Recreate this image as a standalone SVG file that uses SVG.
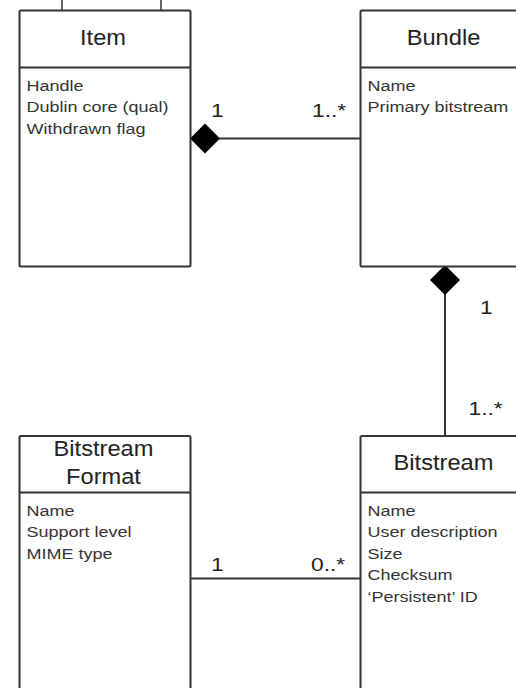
<svg xmlns="http://www.w3.org/2000/svg" width="516" height="688" viewBox="0 0 516 688">
<style>
  .box { fill: #ffffff; stroke: #333333; stroke-width: 2; }
  .div { stroke: #333333; stroke-width: 2; }
  .conn { stroke: #333333; stroke-width: 2; fill: none; }
  .tick { stroke: #333333; stroke-width: 1.5; fill: none; }
  .dia { fill: #000000; stroke: none; }
  .title { font-family: "Liberation Sans", Arial, sans-serif; font-size: 21.5px; fill: #222222; text-anchor: middle; }
  .attr { font-family: "Liberation Sans", Arial, sans-serif; font-size: 15px; fill: #333333; }
  .mult { font-family: "Liberation Sans", Arial, sans-serif; font-size: 19px; fill: #222222; }
</style>
<rect width="516" height="688" fill="#ffffff"/>

<g id="connectors">
  <line class="tick" x1="62" y1="0" x2="62" y2="11"/>
  <line class="tick" x1="161" y1="0" x2="161" y2="11"/>
  <line class="conn" x1="219" y1="138.5" x2="360" y2="138.5"/>
  <polygon class="dia" points="190,138.5 205,123.5 220,138.5 205,153.5"/>
  <line class="conn" x1="445" y1="294" x2="445" y2="436"/>
  <polygon class="dia" points="445,265 460,280 445,295 430,280"/>
  <line class="conn" x1="190" y1="578.5" x2="360" y2="578.5"/>
  <text class="mult" transform="translate(211 116.5) scale(1.2 1)">1</text>
  <text class="mult" transform="translate(312 116.5) scale(1.2 1)">1..*</text>
  <text class="mult" transform="translate(480 314) scale(1.2 1)">1</text>
  <text class="mult" transform="translate(468.5 415) scale(1.2 1)">1..*</text>
  <text class="mult" transform="translate(211 570.5) scale(1.2 1)">1</text>
  <text class="mult" transform="translate(311 570.5) scale(1.2 1)">0..*</text>
</g>

<g id="item">
  <rect class="box" x="19.5" y="10.5" width="171" height="256" rx="1.5"/>
  <line class="div" x1="19.5" y1="67.5" x2="190.5" y2="67.5"/>
  <text class="title" transform="translate(103 45) scale(1.1 1)">Item</text>
  <text class="attr" transform="translate(26.5 90.5) scale(1.2 1)">Handle</text>
  <text class="attr" transform="translate(26.5 112) scale(1.2 1)">Dublin core (qual)</text>
  <text class="attr" transform="translate(26.5 133.5) scale(1.2 1)">Withdrawn flag</text>
</g>

<g id="bundle">
  <rect class="box" x="360.5" y="10.5" width="171" height="256" rx="1.5"/>
  <line class="div" x1="360.5" y1="67.5" x2="531.5" y2="67.5"/>
  <text class="title" transform="translate(443.5 45) scale(1.1 1)">Bundle</text>
  <text class="attr" transform="translate(367.5 90.5) scale(1.2 1)">Name</text>
  <text class="attr" transform="translate(367.5 112) scale(1.2 1)">Primary bitstream</text>
</g>

<g id="bitstream-format">
  <rect class="box" x="19.5" y="436" width="171" height="270" rx="1.5"/>
  <line class="div" x1="19.5" y1="492.5" x2="190.5" y2="492.5"/>
  <text class="title" transform="translate(103.5 455.5) scale(1.1 1)">Bitstream</text>
  <text class="title" transform="translate(103.5 484) scale(1.1 1)">Format</text>
  <text class="attr" transform="translate(26.5 515.5) scale(1.2 1)">Name</text>
  <text class="attr" transform="translate(26.5 537) scale(1.2 1)">Support level</text>
  <text class="attr" transform="translate(26.5 558.5) scale(1.2 1)">MIME type</text>
</g>

<g id="bitstream">
  <rect class="box" x="360.5" y="436" width="171" height="270" rx="1.5"/>
  <line class="div" x1="360.5" y1="492.5" x2="531.5" y2="492.5"/>
  <text class="title" transform="translate(443.5 470) scale(1.1 1)">Bitstream</text>
  <text class="attr" transform="translate(367.5 515.5) scale(1.2 1)">Name</text>
  <text class="attr" transform="translate(367.5 537) scale(1.2 1)">User description</text>
  <text class="attr" transform="translate(367.5 558.5) scale(1.2 1)">Size</text>
  <text class="attr" transform="translate(367.5 580) scale(1.2 1)">Checksum</text>
  <text class="attr" transform="translate(367.5 601.5) scale(1.2 1)">‘Persistent’ ID</text>
</g>
</svg>
